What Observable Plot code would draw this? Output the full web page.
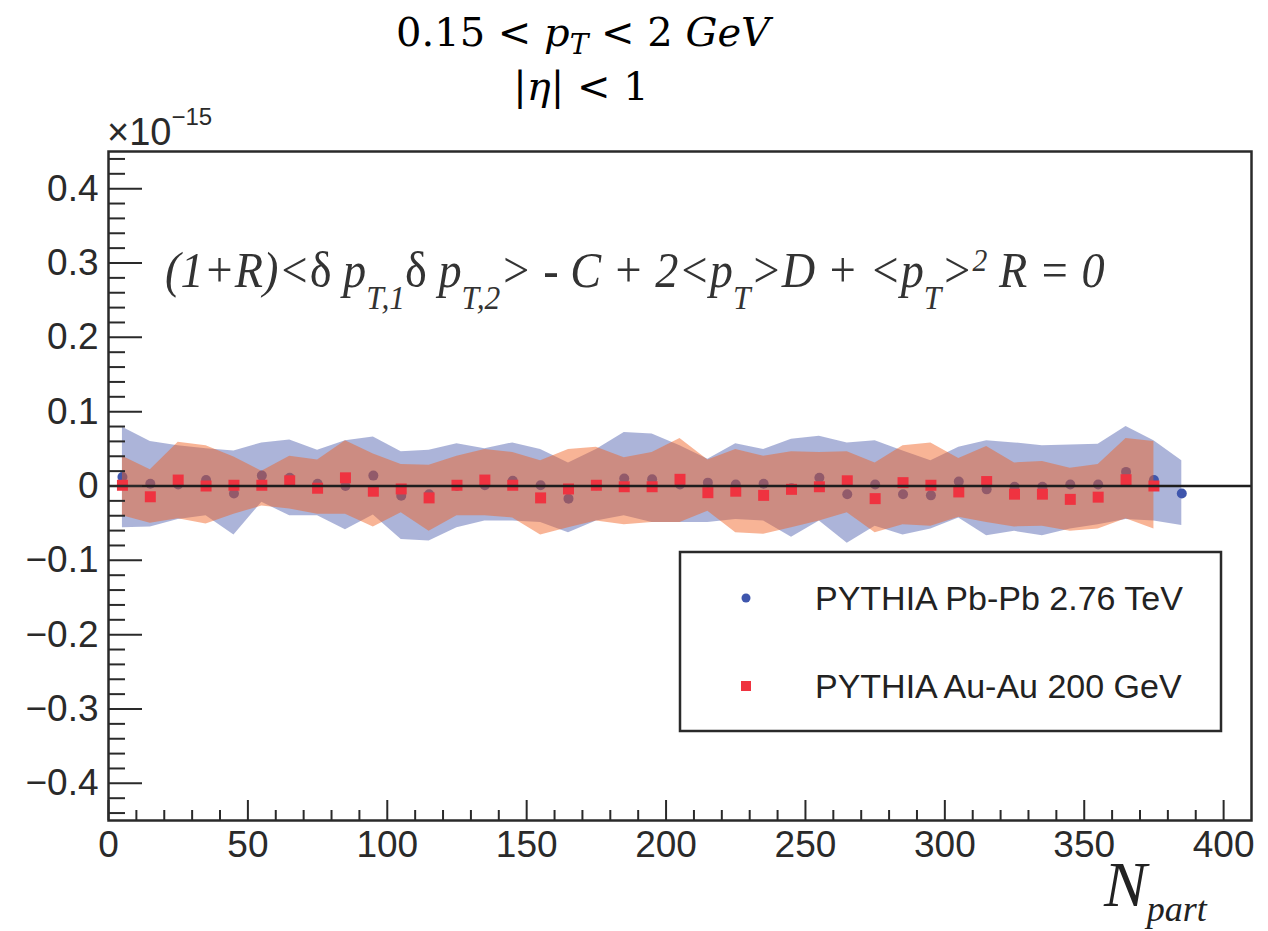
<!DOCTYPE html>
<html><head><meta charset="utf-8">
<script src="https://cdn.jsdelivr.net/npm/d3@7"></script>
<script src="https://cdn.jsdelivr.net/npm/@observablehq/plot@0.6"></script>
<style>
body{margin:0;background:#fff;}
#wrap{position:relative;width:1268px;height:931px;overflow:hidden;}
</style></head><body><div id="wrap"></div>
<script>
// ---- data (values in units of 1e-15) ----
const npartPb = [5,15,25,35,45,55,65,75,85,95,105,115,125,135,145,155,165,175,185,195,205,215,225,235,245,255,265,275,285,295,305,315,325,335,345,355,365,375,385];
const pbValue = [0.012,0.003,0.002,0.008,-0.010,0.014,0.011,0.003,0.000,0.014,-0.013,-0.011,0.000,0.001,0.007,0.001,-0.017,0.001,0.010,0.009,0.002,0.0045,0.002,0.003,-0.003,0.011,-0.011,0.002,-0.011,-0.0126,0.006,-0.0045,-0.001,-0.001,0.002,0.002,0.019,0.008,-0.010];
const pbUpper = [0.079,0.060,0.054,0.050,0.047,0.058,0.062,0.048,0.061,0.066,0.046,0.048,0.057,0.050,0.058,0.049,0.031,0.049,0.072,0.070,0.054,0.036,0.057,0.049,0.063,0.067,0.058,0.061,0.047,0.034,0.052,0.061,0.058,0.054,0.055,0.056,0.080,0.061,0.034];
const pbLower = [-0.056,-0.055,-0.045,-0.040,-0.066,-0.022,-0.040,-0.040,-0.059,-0.039,-0.072,-0.074,-0.056,-0.047,-0.047,-0.049,-0.063,-0.047,-0.040,-0.049,-0.049,-0.049,-0.045,-0.047,-0.069,-0.047,-0.077,-0.054,-0.066,-0.058,-0.043,-0.067,-0.061,-0.067,-0.058,-0.052,-0.045,-0.047,-0.053];

const npartAu = [5,15,25,35,45,55,65,75,85,95,105,115,125,135,145,155,165,175,185,195,205,215,225,235,245,255,265,275,285,295,305,315,325,335,345,355,365,375];
const auValue = [0.001,-0.0145,0.008,0.000,0.001,0.001,0.007,-0.003,0.011,-0.007,-0.004,-0.016,0.001,0.008,0.001,-0.016,-0.004,0.001,-0.001,-0.001,0.009,-0.009,-0.007,-0.0126,-0.0045,-0.001,0.007,-0.017,0.0045,0.001,-0.008,0.006,-0.011,-0.011,-0.018,-0.015,0.0085,0.000];
const auUpper = [0.040,0.022,0.059,0.054,0.039,0.020,0.040,0.035,0.061,0.043,0.029,0.028,0.040,0.049,0.045,0.034,0.049,0.052,0.038,0.045,0.064,0.035,0.049,0.040,0.046,0.045,0.046,0.031,0.054,0.058,0.037,0.053,0.031,0.033,0.024,0.029,0.064,0.060];
const auLower = [-0.040,-0.050,-0.044,-0.051,-0.038,-0.027,-0.031,-0.038,-0.038,-0.055,-0.036,-0.061,-0.040,-0.040,-0.043,-0.066,-0.056,-0.047,-0.052,-0.049,-0.049,-0.034,-0.063,-0.065,-0.056,-0.047,-0.036,-0.063,-0.052,-0.054,-0.042,-0.049,-0.055,-0.054,-0.061,-0.058,-0.044,-0.058];

const seriesNames = ["PYTHIA Pb-Pb 2.76 TeV", "PYTHIA Au-Au 200 GeV"];
const xMajor = [0,50,100,150,200,250,300,350,400];
const xMinor = [10,20,30,40,60,70,80,90,110,120,130,140,160,170,180,190,210,220,230,240,260,270,280,290,310,320,330,340,360,370,380,390];
const yMajor = [-0.4,-0.3,-0.2,-0.1,0,0.1,0.2,0.3,0.4];
const yMinor = [-0.44,-0.42,-0.38,-0.36,-0.34,-0.32,-0.28,-0.26,-0.24,-0.22,-0.18,-0.16,-0.14,-0.12,-0.08,-0.06,-0.04,-0.02,0.02,0.04,0.06,0.08,0.12,0.14,0.16,0.18,0.22,0.24,0.26,0.28,0.32,0.34,0.36,0.38,0.42,0.44];

// ---- layout ----
const W = 1268, H = 931, mL = 108, mR = 17, mT = 151, mB = 111;
const plotW = W - mL - mR, plotH = H - mT - mB;
const blue = "#3f56ad", bandBlue = "#3f52a8", red = "#ef3340", bandRed = "#f05f1f", ink = "#2a2a2a";

const pb = npartPb.map((n, i) => ({n, v: pbValue[i], lo: pbLower[i], hi: pbUpper[i]}));
const au = npartAu.map((n, i) => ({n, v: auValue[i], lo: auLower[i], hi: auUpper[i]}));

const chart = Plot.plot({
  width: W, height: H,
  marginLeft: mL, marginRight: mR, marginTop: mT, marginBottom: mB,
  style: {fontFamily: "'Liberation Sans', Arial, sans-serif", fontSize: "37px", color: ink, background: "#fff"},
  x: {domain: [0, 410]},
  y: {domain: [-0.45, 0.45]},
  marks: [
    Plot.areaY(pb, {x: "n", y1: "lo", y2: "hi", fill: bandBlue, fillOpacity: 0.43}),
    Plot.dot(pb, {x: "n", y: "v", r: 5, fill: blue}),
    Plot.areaY(au, {x: "n", y1: "lo", y2: "hi", fill: bandRed, fillOpacity: 0.47}),
    Plot.dot(au, {x: "n", y: "v", symbol: "square", r: 6.2, fill: red}),
    Plot.ruleY([0], {stroke: "#1e1e1e", strokeWidth: 2.4}),
    Plot.tickY(yMinor, {insetRight: plotW - 17, stroke: ink, strokeWidth: 2}),
    Plot.tickY(yMajor, {insetRight: plotW - 34, stroke: ink, strokeWidth: 2}),
    Plot.tickX(xMinor, {insetTop: plotH - 10, stroke: ink, strokeWidth: 2}),
    Plot.tickX(xMajor, {insetTop: plotH - 20, stroke: ink, strokeWidth: 2}),
    Plot.axisY({ticks: yMajor, tickSize: 0, tickPadding: 10, label: null,
      tickFormat: d => Math.abs(d) < 1e-9 ? "0" : d3.format(".1f")(d)}),
    Plot.axisX({ticks: xMajor, tickSize: 0, tickPadding: 10, label: null}),
    Plot.frame({stroke: ink, strokeWidth: 2.5})
  ]
});
document.getElementById("wrap").appendChild(chart);

// ---- annotations (text) ----
const svg = d3.select(chart);
const g = svg.append("g").attr("class", "annotations").attr("fill", ink).attr("text-anchor", "start");

// exponent label
const ex = g.append("text").attr("x", 107).attr("y", 145).attr("text-anchor", "start")
  .attr("font-family", "'Liberation Sans', Arial, sans-serif").attr("font-size", 38);
ex.append("tspan").text("×10");
ex.append("tspan").attr("dy", -20).attr("font-size", 24).text("−15");

// title
const serif = "'DejaVu Serif', 'Liberation Serif', serif";
const t1 = g.append("text").attr("x", 583).attr("y", 46).attr("text-anchor", "middle")
  .attr("font-family", serif).attr("font-size", 40).attr("fill", "#000");
t1.append("tspan").text("0.15 < ");
t1.append("tspan").attr("font-style", "italic").text("p");
t1.append("tspan").attr("font-style", "italic").attr("font-size", 28).attr("dy", 8).text("T");
t1.append("tspan").attr("dy", -8).text(" < 2 ");
t1.append("tspan").attr("font-style", "italic").text("GeV");
const t2 = g.append("text").attr("x", 581).attr("y", 100).attr("text-anchor", "middle")
  .attr("font-family", serif).attr("font-size", 40).attr("fill", "#000");
t2.append("tspan").text("|");
t2.append("tspan").attr("font-style", "italic").text("η");
t2.append("tspan").text("| < 1");

// formula
const tf = "'Liberation Serif', 'Times New Roman', serif";
const fx = 165, fy = 287;
const f = g.append("text").attr("x", fx).attr("y", fy).attr("text-anchor", "start")
  .attr("font-family", tf).attr("font-style", "italic").attr("font-size", 50).attr("fill", "#333");
const sub = (s) => { f.append("tspan").attr("dy", 22).attr("font-size", 34).text(s); };
const back = (s) => f.append("tspan").attr("dy", -22).text(s);
f.append("tspan").text("(1+R)<");
f.append("tspan").attr("font-style", "normal").text("δ");
f.append("tspan").text(" p");
sub("T,1");
back("δ").attr("font-style", "normal");
f.append("tspan").text(" p");
sub("T,2");
back("> - C + 2<p");
sub("T");
back(">D + <p");
sub("T");
back(">");
f.append("tspan").attr("dy", -16).attr("font-size", 32).text("2");
f.append("tspan").attr("dy", 16).text(" R = 0");
{
  const bb = f.node().getBBox();
  const sx = 940 / bb.width;
  f.attr("transform", `translate(${fx},0) scale(${sx},1) translate(${-fx},0)`);
}

// x-axis title
const xt = g.append("text").attr("x", 1104).attr("y", 906).attr("text-anchor", "start")
  .attr("font-family", tf).attr("font-style", "italic").attr("fill", "#222");
xt.append("tspan").attr("font-size", 64).text("N");
xt.append("tspan").attr("font-size", 36).attr("dy", 15).text("part");

// legend
const lg = svg.append("g").attr("class", "legend").attr("text-anchor", "start");
lg.append("rect").attr("x", 680).attr("y", 552).attr("width", 541).attr("height", 179)
  .attr("fill", "#fff").attr("stroke", ink).attr("stroke-width", 2.5);
lg.append("circle").attr("cx", 746).attr("cy", 598).attr("r", 4.5).attr("fill", blue);
lg.append("rect").attr("x", 741).attr("y", 681).attr("width", 10).attr("height", 10).attr("fill", red);
lg.selectAll("text.lt").data(seriesNames).join("text").attr("class", "lt")
  .attr("x", 815).attr("y", (d, i) => i === 0 ? 610 : 698).attr("text-anchor", "start")
  .attr("font-family", "'Liberation Sans', Arial, sans-serif").attr("font-size", 34).attr("fill", "#222")
  .text(d => d);
</script></body></html>
